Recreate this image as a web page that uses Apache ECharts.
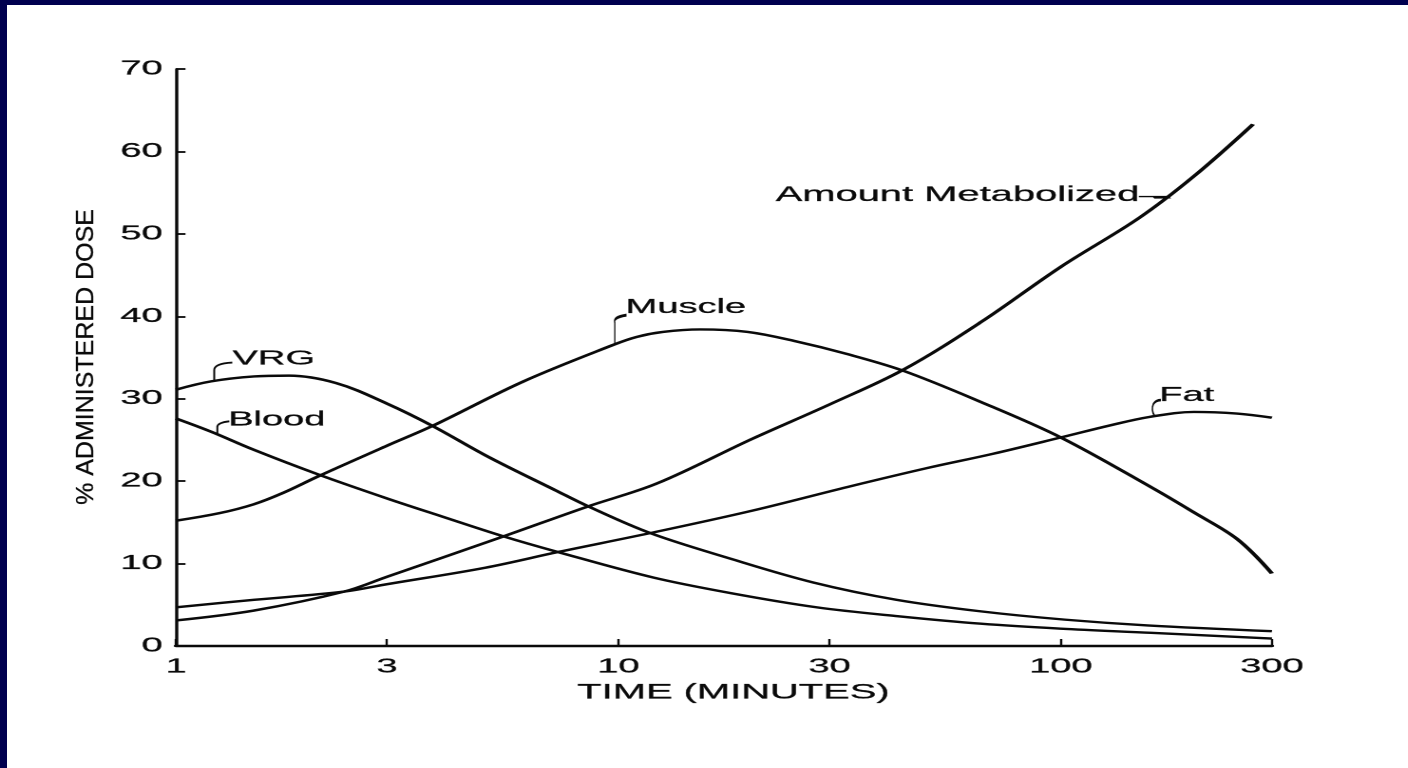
<!DOCTYPE html>
<html>
<head>
<meta charset="utf-8">
<script src="https://cdn.jsdelivr.net/npm/echarts@6/dist/echarts.min.js"></script>
<style>
html,body{margin:0;padding:0;background:#fff;overflow:hidden;}
#wrap{position:relative;width:1408px;height:768px;background:#fff;}
/* the scanned figure is stretched sideways, so the whole chart is too */
#chart{position:absolute;left:0;top:0;width:741.05px;height:768px;transform:scaleX(1.9);transform-origin:0 0;}
.edge{position:absolute;background:#00004f;}
</style>
</head>
<body>
<div id="wrap">
	<div id="chart"></div>
	<div class="edge" style="left:0;top:0;width:1408px;height:5px"></div>
	<div class="edge" style="left:0;top:0;width:7px;height:768px"></div>
</div>
<script>
	// tick labels of the time axis (minutes, log scale)
	var tickLabels = [1, 3, 10, 30, 100, 300];

	// % administered dose
	var vrgTime = [1, 1.2, 1.5, 1.8, 2.3, 3, 3.8, 5.1, 7.2, 8.5, 11.8, 17.9, 27.6, 42.6, 66, 102, 157, 300];
	var vrgDose = [31.1, 32.1, 32.7, 32.8, 31.9, 29.4, 26.7, 22.9, 18.9, 17.0, 13.7, 10.6, 7.7, 5.6, 4.2, 3.2, 2.5, 1.8];

	var bloodTime = [1, 1.2, 1.5, 2.1, 3, 4, 5.5, 7.3, 12, 18, 28, 43, 66, 100, 160, 300];
	var bloodDose = [27.6, 26.0, 23.8, 20.8, 17.9, 15.7, 13.3, 11.4, 8.3, 6.4, 4.7, 3.6, 2.7, 2.1, 1.6, 0.9];

	var muscleTime = [1, 1.25, 1.5, 1.75, 2.1, 3, 3.8, 6.1, 9.7, 11, 12.6, 15.3, 19.6, 25, 33, 44, 66, 100, 162, 200, 250, 300];
	var muscleDose = [15.2, 16.1, 17.2, 18.6, 20.6, 24.3, 26.7, 32.1, 36.5, 37.5, 38.1, 38.4, 38.1, 37.0, 35.4, 33.4, 29.6, 25.3, 19.1, 16.2, 13.0, 8.8];

	var fatTime = [1, 1.5, 2.4, 3, 5, 7.3, 11.8, 20, 33, 50, 70, 100, 130, 159, 200, 250, 300];
	var fatDose = [4.7, 5.6, 6.6, 7.5, 9.5, 11.4, 13.7, 16.4, 19.3, 21.6, 23.3, 25.3, 26.8, 27.8, 28.4, 28.2, 27.7];

	var metabTime = [1, 1.5, 2.4, 3, 5.5, 8.5, 12.2, 20, 30, 44, 66, 100, 150, 200, 272];
	var metabDose = [3.1, 4.3, 6.6, 8.4, 13.3, 16.9, 19.7, 25.1, 29.3, 33.5, 39.3, 46, 51.9, 57.0, 63.3];

	// where each curve name is hooked onto its curve
	var labelNames = ['VRG', 'Blood', 'Muscle', 'Fat', 'Amount Metabolized'];
	var labelTime = [1.22, 1.24, 9.8, 161, 170];
	var labelDose = [32.2, 25.8, 36.5, 27.9, 54.4];

	var S = 1.9;
	var ink = '#0a0a0a';
	var font = 'Liberation Sans';
	// a hair of outline makes the type as heavy as the scanned print
	var heavy = {textBorderColor: ink, textBorderWidth: 0.25};

	function pairs(t, v) {
		return t.map(function(x, i) { return [x, v[i]]; });
	}

	// little hooked leader from the curve up to its name
	var hooks = [
		{path: 'path://M0,20 L0,9 Q0,2 8,1', size: [9.5, 18], pos: [11.5, 0], align: 'left'},
		{path: 'path://M0,20 L0,10 Q0,3 8,1', size: [6.3, 12], pos: [7.5, 2], align: 'left'},
		{path: 'path://M2,30 L2,8 Q1,3 8,1', size: [6.3, 30], pos: [7, -2], align: 'left'},
		{path: 'path://M3,16 Q0,10 2,4 Q4,0 8,0', size: [4.5, 16], pos: [5, 0], align: 'left'},
		{path: 'path://M0,0 L10,0 L11,1', size: [12.6, 2], pos: [-1, 1], align: 'right'}
	];

	function mark(i) {
		var h = hooks[i];
		var right = h.align === 'right';
		return {
			silent: true,
			symbolKeepAspect: false,
			itemStyle: {color: 'none', borderColor: ink, borderWidth: 1.4},
			label: Object.assign({show: true, formatter: '{b}', color: ink, fontSize: right ? 21 : 20, fontFamily: font}, heavy),
			data: [{
				name: labelNames[i],
				coord: [labelTime[i], labelDose[i]],
				symbol: h.path,
				symbolSize: h.size,
				symbolOffset: right ? [-h.size[0] / 2, 0] : [h.size[0] / 2, -h.size[1] / 2],
				label: {position: h.pos, verticalAlign: 'middle', align: h.align, offset: right ? [17, 0] : [0, 0]}
			}]
		};
	}

	function line(name, t, v, i) {
		return {
			name: name,
			type: 'line',
			data: pairs(t, v),
			smooth: 0.35,
			showSymbol: false,
			lineStyle: {color: ink, width: 2.4},
			markPoint: mark(i)
		};
	}

	var myChart = echarts.init(document.getElementById('chart'), null, {devicePixelRatio: 2});
	var option = {
		animation: false,
		backgroundColor: '#fff',
		grid: {left: 176 / S, right: 741.05 - 1272 / S, top: 69, bottom: 122},
		xAxis: {
			type: 'log',
			logBase: 10,
			min: 1,
			max: 300,
			name: 'TIME (MINUTES)',
			nameLocation: 'middle',
			nameGap: 34,
			nameTextStyle: Object.assign({color: ink, fontSize: 21, fontFamily: font, padding: [0, 0, 0, 10]}, heavy),
			axisLine: {lineStyle: {color: ink, width: 2.4}},
			axisTick: {show: true, inside: true, length: 7, customValues: tickLabels, lineStyle: {color: ink, width: 1.2}},
			axisLabel: Object.assign({customValues: tickLabels, margin: 11, color: ink, fontSize: 20, fontFamily: font}, heavy),
			splitLine: {show: false},
			minorTick: {show: false}
		},
		yAxis: {
			type: 'value',
			min: 0,
			max: 70,
			interval: 10,
			axisLine: {show: true, lineStyle: {color: ink, width: 1.7}},
			axisTick: {show: true, inside: true, length: 5, lineStyle: {color: ink, width: 1.8}},
			axisLabel: Object.assign({margin: 7, color: ink, fontSize: 20, fontFamily: font}, heavy),
			splitLine: {show: false}
		},
		graphic: [{
			type: 'text',
			x: 86 / S,
			y: 357,
			rotation: Math.PI / 2,
			scaleY: 1 / S,
			silent: true,
			style: {text: '% ADMINISTERED DOSE', fontSize: 25, fontFamily: font, fill: ink, stroke: ink, lineWidth: 0.3, align: 'center', verticalAlign: 'middle'}
		}],
		series: [
			line('VRG', vrgTime, vrgDose, 0),
			line('Blood', bloodTime, bloodDose, 1),
			line('Muscle', muscleTime, muscleDose, 2),
			line('Fat', fatTime, fatDose, 3),
			line('Amount Metabolized', metabTime, metabDose, 4)
		]
	};
	myChart.setOption(option);
</script>
</body>
</html>
